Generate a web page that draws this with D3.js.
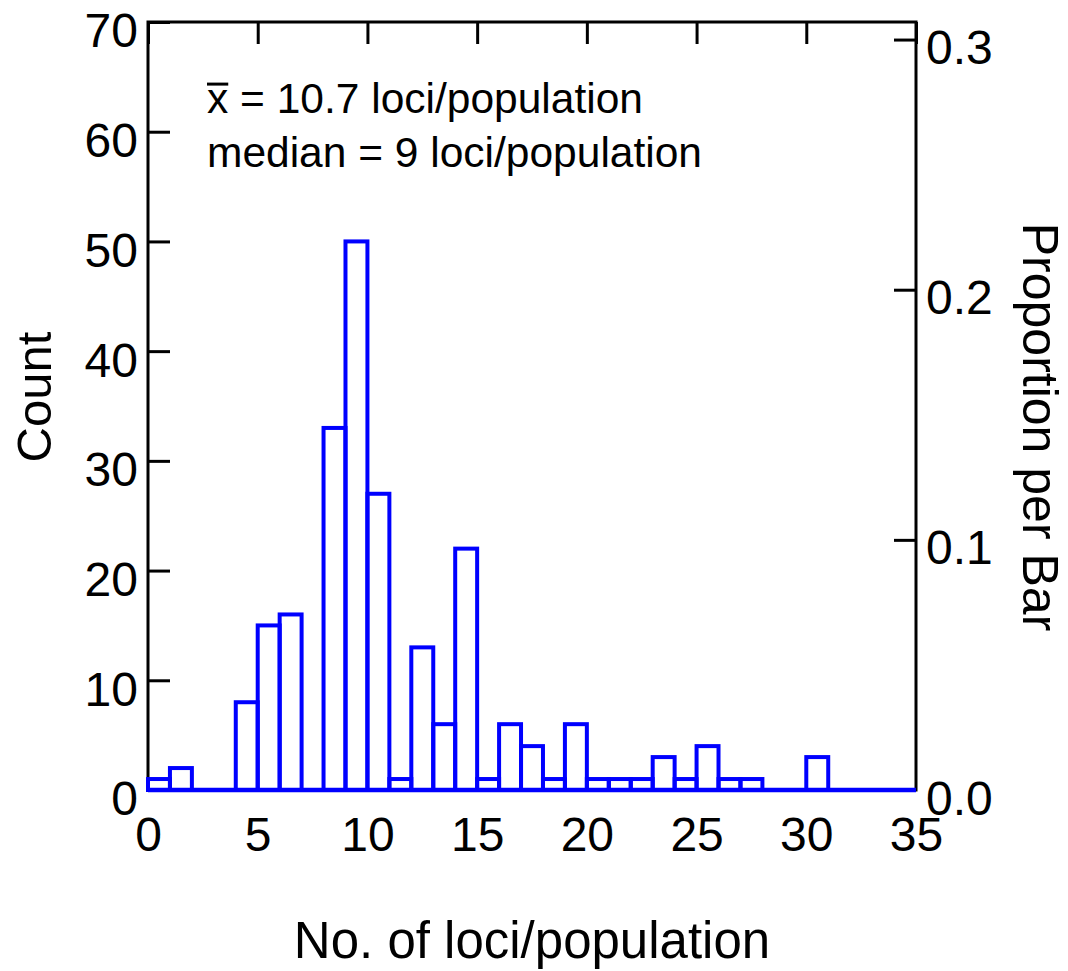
<!DOCTYPE html>
<html>
<head>
<meta charset="utf-8">
<script src="https://cdn.jsdelivr.net/npm/d3@7"></script>
<style>
  body { margin: 0; background: #fff; }
  text { font-family: "Liberation Sans", Arial, sans-serif; fill: #000; }
</style>
</head>
<body>
<script>
// histogram bins (lower edge of each 1-unit bin) and counts
const binStarts = d3.range(0, 35);
const counts = [1, 2, 0, 0, 8, 15, 16, 0, 33, 50, 27, 1, 13, 6, 22, 1, 6, 4, 1, 6,
                1, 1, 1, 3, 1, 4, 1, 1, 0, 0, 3, 0, 0, 0, 0];
const xTicks = [0, 5, 10, 15, 20, 25, 30, 35];
const countTicks = [0, 10, 20, 30, 40, 50, 60, 70];
const propTicks = [0.0, 0.1, 0.2, 0.3];
const notes = ["x = 10.7 loci/population", "median = 9 loci/population"];

const W = 1068, H = 971;
const margin = {top: 22, right: 152, bottom: 181, left: 148};
const width = W - margin.left - margin.right;
const height = H - margin.top - margin.bottom;
const blue = "#0000ff";

const svg = d3.select("body").append("svg")
    .attr("width", W)
    .attr("height", H);

const g = svg.append("g")
    .attr("transform", `translate(${margin.left},${margin.top})`);

const x = d3.scaleLinear().domain([0, 35]).range([0, width]);
const y = d3.scaleLinear().domain([0, 70]).range([height, 0]);
const total = d3.sum(counts);
const yProp = d3.scaleLinear().domain([0, 70 / total]).range([height, 0]);

// frame
g.append("rect")
    .attr("width", width)
    .attr("height", height)
    .attr("fill", "none")
    .attr("stroke", "#000")
    .attr("stroke-width", 3);

// axes, ticks pointing inward
const fontSize = 48;

const leftAxis = g.append("g")
    .call(d3.axisLeft(y).tickValues(countTicks).tickSizeInner(-22).tickSizeOuter(0).tickPadding(10));
leftAxis.selectAll("text").attr("dy", "0.52em");

const rightAxis = g.append("g")
    .attr("transform", `translate(${width},0)`)
    .call(d3.axisRight(yProp).tickValues(propTicks).tickFormat(d3.format(".1f"))
        .tickSizeInner(-22).tickSizeOuter(0).tickPadding(10));
rightAxis.selectAll("text").attr("dy", "0.5em");

const topAxis = g.append("g")
    .call(d3.axisTop(x).tickValues(xTicks).tickFormat("").tickSizeInner(-22).tickSizeOuter(0));

const bottomAxis = g.append("g")
    .attr("transform", `translate(0,${height})`)
    .call(d3.axisBottom(x).tickValues(xTicks).tickSize(0).tickPadding(27));

[leftAxis, rightAxis, topAxis, bottomAxis].forEach(a => {
    a.select(".domain").remove();
    a.selectAll("line").attr("stroke", "#000").attr("stroke-width", 3);
    a.selectAll("text")
        .style("font-family", '"Liberation Sans", Arial, sans-serif')
        .attr("font-size", fontSize)
        .attr("fill", "#000");
});

// bars
g.append("g")
    .selectAll("rect")
    .data(binStarts.map((b, i) => ({x0: b, x1: b + 1, n: counts[i]})).filter(d => d.n > 0))
    .join("rect")
    .attr("x", d => x(d.x0))
    .attr("y", d => y(d.n))
    .attr("width", d => x(d.x1) - x(d.x0))
    .attr("height", d => y(0) - y(d.n))
    .attr("fill", "none")
    .attr("stroke", blue)
    .attr("stroke-width", 4);

// histogram baseline
g.append("line")
    .attr("x1", x(0)).attr("x2", x(35))
    .attr("y1", y(0)).attr("y2", y(0))
    .attr("stroke", blue)
    .attr("stroke-width", 4.5);

// annotation
const noteSize = 42.5;
const noteX = 59;
const line1 = g.append("text")
    .attr("x", noteX).attr("y", 91)
    .attr("font-size", noteSize)
    .text(notes[0]);
g.append("text")
    .attr("x", noteX).attr("y", 145)
    .attr("font-size", noteSize)
    .text(notes[1]);
// bar over the x (mean)
const xw = line1.node().getSubStringLength(0, 1);
g.append("line")
    .attr("x1", noteX).attr("x2", noteX + xw)
    .attr("y1", 91 - noteSize * 0.68).attr("y2", 91 - noteSize * 0.68)
    .attr("stroke", "#000")
    .attr("stroke-width", 3);

// axis titles
svg.append("text")
    .attr("transform", "translate(51,397) rotate(-90)")
    .attr("text-anchor", "middle")
    .attr("font-size", 49)
    .text("Count");

svg.append("text")
    .attr("transform", "translate(1023,427) rotate(90)")
    .attr("text-anchor", "middle")
    .attr("font-size", 50)
    .text("Proportion per Bar");

svg.append("text")
    .attr("x", margin.left + width / 2)
    .attr("y", 958)
    .attr("text-anchor", "middle")
    .attr("font-size", 51)
    .text("No. of loci/population");
</script>
</body>
</html>
